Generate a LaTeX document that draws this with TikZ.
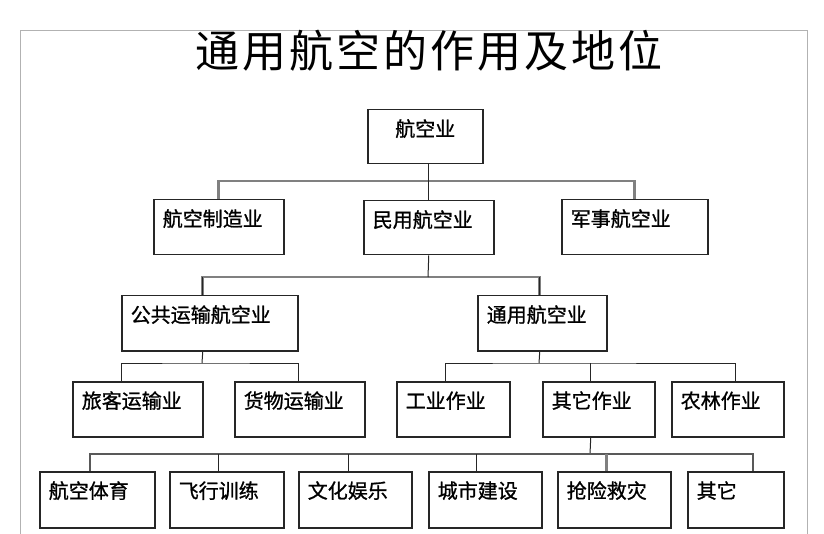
\documentclass[tikz,border=0pt]{standalone}
\usepackage{fontspec}
\newfontfamily\cjk[FakeBold=1]{Noto Sans CJK SC}
\newfontfamily\cjktitle[LetterSpace=7]{Noto Sans CJK SC}
\begin{document}
\begin{tikzpicture}[x=1pt,y=-1pt]
\tikzset{
  box/.style={draw=black!85, line width=1.5pt, fill=white, anchor=north west,
    inner xsep=9pt, inner ysep=0pt, text height=26.5pt, align=left,
    font=\cjk\fontsize{20}{24}\selectfont},
  conn/.style={draw=black!85, line width=1pt},
  bus/.style={draw=black!50, line width=2.6pt},
  busm/.style={draw=black!65, line width=1.8pt}
}
\useasboundingbox (0,0) rectangle (824,534);
\clip (0,0) rectangle (824,534);
\fill[white] (0,0) rectangle (824,534);
\draw[gray!60, line width=1pt] (20,31) rectangle (807,560);

\node[anchor=base west, font=\cjktitle\fontsize{44}{48}\selectfont, inner sep=0pt] (title) at (195,68) {通用航空的作用及地位};

% level 0
\node[box, text width=97pt, text depth=27.5pt, align=center] (hk) at (367,109) {航空业};
% level 1
\node[box, text width=112pt, text depth=28.5pt] (zz) at (153,199) {航空制造业};
\node[box, text width=112pt, text depth=27.5pt] (my) at (363,200) {民用航空业};
\node[box, text width=128pt, text depth=28.5pt] (js) at (561,199) {军事航空业};
% level 2
\node[box, text width=158pt, text depth=28.5pt] (gg) at (121,295) {公共运输航空业};
\node[box, text width=111pt, text depth=28.5pt] (ty) at (477,295) {通用航空业};
% level 3
\node[box, text width=112pt, text depth=28.5pt] (lk) at (72,381) {旅客运输业};
\node[box, text width=112pt, text depth=28.5pt] (hw) at (234,381) {货物运输业};
\node[box, text width=95pt, text depth=28.5pt] (gy) at (396,381) {工业作业};
\node[box, text width=94pt, text depth=28.5pt] (qt) at (542,381) {其它作业};
\node[box, text width=94pt, text depth=28.5pt] (nl) at (671,381) {农林作业};
% level 4
\node[box, text width=97pt, text depth=29.5pt] (a1) at (39,471) {航空体育};
\node[box, text width=96pt, text depth=29.5pt] (a2) at (169,471) {飞行训练};
\node[box, text width=95pt, text depth=29.5pt] (a3) at (298,471) {文化娱乐};
\node[box, text width=95pt, text depth=29.5pt] (a4) at (428,471) {城市建设};
\node[box, text width=95pt, text depth=29.5pt] (a5) at (557,471) {抢险救灾};
\node[box, text width=78pt, text depth=29.5pt] (a6) at (687,471) {其它};

% bus coordinates
\coordinate (b1) at (428,181);
\coordinate (b2) at (428,277);
\coordinate (b3) at (202,363);
\coordinate (b4) at (539,363);
\coordinate (b5) at (590,454);

% connectors level 0 -> 1
\draw[bus] (zz.north) |- (b1) -| (js.north);
\draw[conn] (hk.south -| my.north) -- (my.north);
% level 1 -> 2
\draw[bus] ([xshift=-7pt]gg.north) |- (b2) -| ([xshift=-2.5pt]ty.north);
\draw[conn] (my.south) -- (b2);
\draw[conn] ([xshift=-7pt]gg.north) -- ([xshift=-7pt]gg.north |- b2);
\draw[conn] ([xshift=-2.5pt]ty.north) -- ([xshift=-2.5pt]ty.north |- b2);
% level 2 -> 3 left
\draw[conn] ([xshift=-7pt]gg.south) -- (b3);
\draw[conn] ([xshift=-16pt]lk.north) |- (b3) -| ([xshift=-1pt]hw.north);
% level 2 -> 3 right
\draw[conn] ([xshift=-2.5pt]ty.south) -- (b4);
\draw[conn] ([xshift=-8pt]gy.north) |- (b4) -| ([xshift=8pt]nl.north);
\draw[conn] ([xshift=-8pt]qt.north) -- ([xshift=-8pt]qt.north |- b4);
% level 3 -> 4
\draw[conn] ([xshift=-8pt]qt.south) -- (b5);
\draw[busm] ([xshift=-7.5pt]a1.north) |- (b5) -| ([xshift=17pt]a6.north);
\draw[conn] ([xshift=-8pt]a2.north) -- ([xshift=-8pt]a2.north |- b5);
\draw[conn] ([xshift=-6.5pt]a3.north) -- ([xshift=-6.5pt]a3.north |- b5);
\draw[conn] ([xshift=-8.5pt]a4.north) -- ([xshift=-8.5pt]a4.north |- b5);
\draw[bus] ([xshift=-7.5pt]a5.north) -- ([xshift=-7.5pt]a5.north |- b5);
\end{tikzpicture}
\end{document}
